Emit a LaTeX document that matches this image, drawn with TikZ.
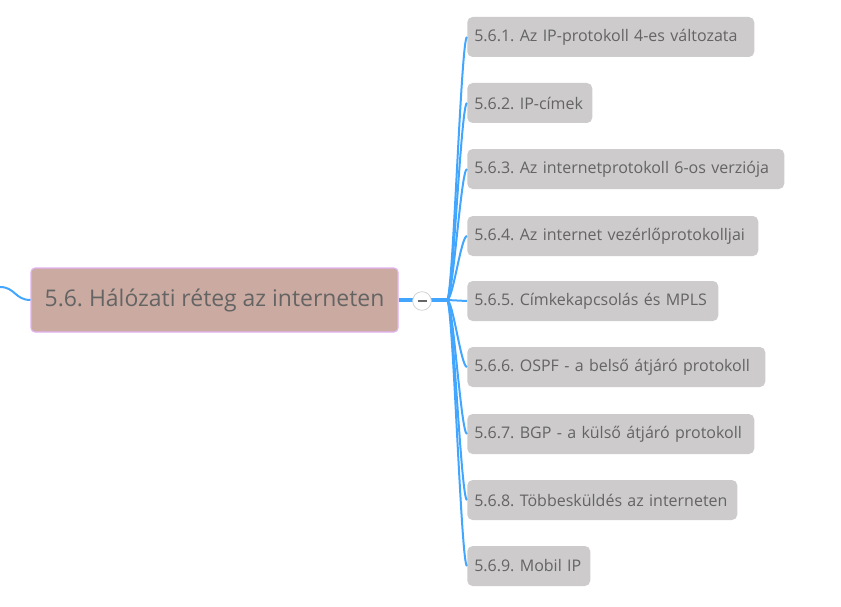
\documentclass[tikz,border=0pt]{standalone}
\usepackage{fontspec}
\setmainfont{Open Sans}
\usetikzlibrary{calc}
\frenchspacing
\definecolor{linkblue}{RGB}{66,166,255}
\definecolor{mainfill}{RGB}{203,171,161}
\definecolor{mainborder}{RGB}{226,178,240}
\definecolor{childfill}{RGB}{205,203,204}
\definecolor{txtgray}{RGB}{100,100,100}
\tikzset{
  mainbox/.style={draw=mainborder, line width=0.8pt, fill=mainfill, rounded corners=3pt,
    minimum width=275.25pt, minimum height=48pt, text=txtgray, font=\fontsize{17.2}{19}\selectfont,
    inner xsep=0pt, inner ysep=0pt, align=center},
  childbox/.style={fill=childfill, rounded corners=4pt, minimum height=30pt,
    text width=#1, inner xsep=5.25pt, inner ysep=0pt, align=left, anchor=west,
    text=txtgray, font=\fontsize{12}{14}\selectfont},
  link/.style={draw=linkblue, line width=1.5pt},
  mainlink/.style={draw=linkblue, line width=2.3pt},
}
\begin{document}
\begin{tikzpicture}[x=0.75pt,y=-0.75pt]
\useasboundingbox (0,0) rectangle (841,606);
\coordinate (J) at (447,300);
\coordinate (L) at (0,287);
% children
\node[childbox=204.75pt] (c1) at (467,37) {\mbox{5.6.1. Az IP-protokoll 4-es változata}};
\node[childbox=83.25pt] (c2) at (467,103) {\mbox{5.6.2. IP-címek}};
\node[childbox=227.25pt] (c3) at (467,169) {\mbox{5.6.3. Az internetprotokoll 6-os verziója}};
\node[childbox=207.75pt] (c4) at (467,236) {\mbox{5.6.4. Az internet vezérlőprotokolljai}};
\node[childbox=177.75pt] (c5) at (467,301) {\mbox{5.6.5. Címkekapcsolás és MPLS}};
\node[childbox=213pt] (c6) at (467,367) {\mbox{5.6.6. OSPF - a belső átjáró protokoll}};
\node[childbox=204.75pt] (c7) at (467,434) {\mbox{5.6.7. BGP - a külső átjáró protokoll}};
\node[childbox=192pt] (c8) at (467,500) {\mbox{5.6.8. Többesküldés az interneten}};
\node[childbox=81.75pt] (c9) at (467,566) {\mbox{5.6.9. Mobil IP}};
% links
\foreach \c in {c1,c2,c3,c4,c6,c7,c8,c9}{
  \draw[link] (J) .. controls ($(J)+(6,0)$) and ($(\c.west)+(-6,0)$) .. (\c.west);
}
\draw[link] (J) -- (c5.west);
% main node
\node[mainbox] (m) at (214.5,300) {5.6. Hálózati réteg az interneten};
\draw[link] (L) .. controls (15,287) and (15,300) .. (m.west);
\draw[mainlink] (m.east) -- (J);
\node[circle, draw=gray!35, fill=white, line width=0.6pt, minimum size=14pt, inner sep=0pt] (col) at (422,301) {};
\draw[draw=gray!80!black, line width=1pt] ($(col.center)+(-4.5,0)$) -- ($(col.center)+(4.5,0)$);
\end{tikzpicture}
\end{document}
